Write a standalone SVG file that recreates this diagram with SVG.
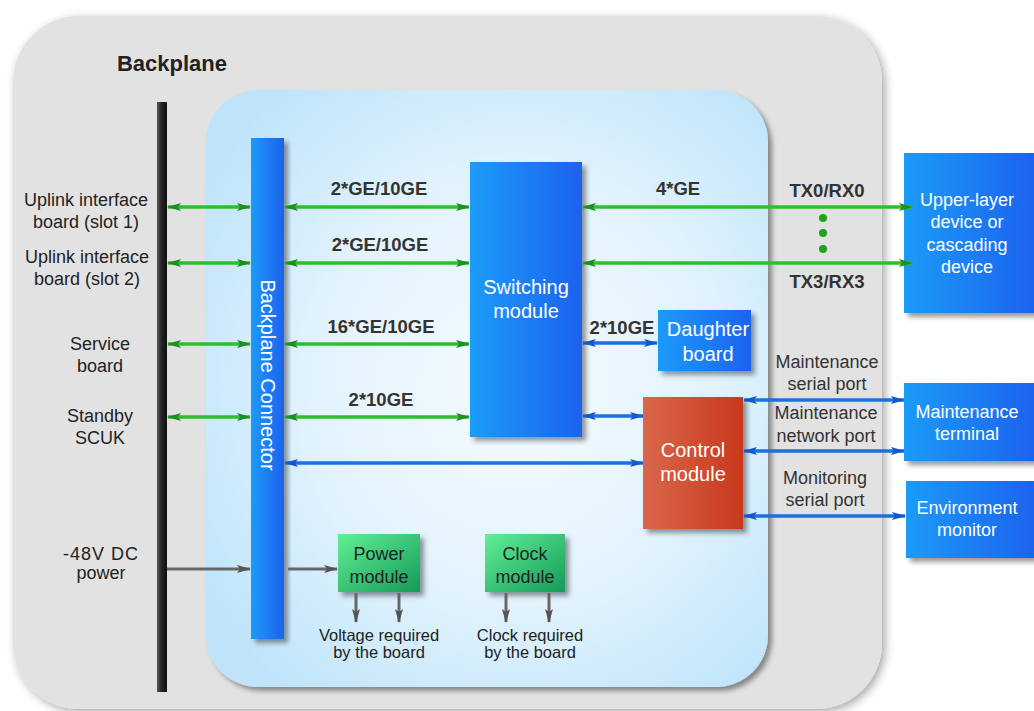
<svg xmlns="http://www.w3.org/2000/svg" width="1034" height="711" viewBox="0 0 1034 711">
<defs>
  <linearGradient id="gBlue" x1="0" y1="0" x2="1" y2="0">
    <stop offset="0" stop-color="#1d9bf8"/>
    <stop offset="1" stop-color="#1f62ee"/>
  </linearGradient>
  <linearGradient id="gRed" x1="0" y1="0" x2="1" y2="0">
    <stop offset="0" stop-color="#d9674c"/>
    <stop offset="1" stop-color="#c9381b"/>
  </linearGradient>
  <linearGradient id="gGreen" x1="0" y1="0" x2="1" y2="1">
    <stop offset="0" stop-color="#62ef96"/>
    <stop offset="1" stop-color="#139b58"/>
  </linearGradient>
  <linearGradient id="gBar" x1="0" y1="0" x2="1" y2="0">
    <stop offset="0" stop-color="#555"/>
    <stop offset="0.5" stop-color="#222"/>
    <stop offset="1" stop-color="#111"/>
  </linearGradient>
  <radialGradient id="gInner" cx="0.55" cy="0.5" r="0.65">
    <stop offset="0" stop-color="#f4faff"/>
    <stop offset="0.55" stop-color="#e2f3fd"/>
    <stop offset="1" stop-color="#bfe4fa"/>
  </radialGradient>
  <filter id="sh" x="-20%" y="-20%" width="140%" height="140%">
    <feDropShadow dx="4" dy="4" stdDeviation="2.5" flood-color="#000" flood-opacity="0.4"/>
  </filter>
  <filter id="shOuter" x="-5%" y="-5%" width="110%" height="110%">
    <feDropShadow dx="3" dy="3" stdDeviation="5" flood-color="#000" flood-opacity="0.35"/>
  </filter>
  <marker id="ag" viewBox="0 0 14 8" refX="13" refY="4" markerWidth="14" markerHeight="8" markerUnits="userSpaceOnUse" orient="auto-start-reverse">
    <path d="M0,0 L14,4 L0,8 L3,4z" fill="#1d8f22"/>
  </marker>
  <marker id="ab" viewBox="0 0 14 8" refX="13" refY="4" markerWidth="14" markerHeight="8" markerUnits="userSpaceOnUse" orient="auto-start-reverse">
    <path d="M0,0 L14,4 L0,8 L3,4z" fill="#1458c8"/>
  </marker>
  <marker id="ay" viewBox="0 0 14 8" refX="13" refY="4" markerWidth="14" markerHeight="8" markerUnits="userSpaceOnUse" orient="auto">
    <path d="M0,0 L14,4 L0,8 L3,4z" fill="#555"/>
  </marker>
  <style>
    .lbl{font-family:"Liberation Sans",Arial,sans-serif;font-size:18px;fill:#222;text-anchor:middle}
    .port{font-family:"Liberation Sans",Arial,sans-serif;font-size:18px;fill:#333;text-anchor:middle}
    .bold{font-family:"Liberation Sans",Arial,sans-serif;font-size:18.5px;font-weight:bold;fill:#333;text-anchor:middle}
    .wt{font-family:"Liberation Sans",Arial,sans-serif;font-size:20px;fill:#fff;text-anchor:middle}
    .wr{font-family:"Liberation Sans",Arial,sans-serif;font-size:18px;fill:#fff;text-anchor:middle}
    .gt{font-family:"Liberation Sans",Arial,sans-serif;font-size:18px;fill:#222;text-anchor:middle}
    .small{font-family:"Liberation Sans",Arial,sans-serif;font-size:16.5px;fill:#222;text-anchor:middle}
    .green{fill:none;stroke:#2cbf2c;stroke-width:3.5;marker-start:url(#ag);marker-end:url(#ag)}
    .blue{fill:none;stroke:#1c6fe0;stroke-width:3.5;marker-start:url(#ab);marker-end:url(#ab)}
    .gray{fill:none;stroke:#666;stroke-width:3;marker-end:url(#ay)}
    .bluebox{fill:url(#gBlue);filter:url(#sh)}
  </style>
</defs>

<g id="backplane">
  <rect x="13" y="16" width="869" height="693" rx="66" fill="#e2e2e2" filter="url(#shOuter)"/>
  <text x="172" y="71" font-family="Liberation Sans, Arial, sans-serif" font-size="22" font-weight="bold" fill="#222" text-anchor="middle">Backplane</text>
</g>

<g id="board">
  <rect x="206" y="90" width="562" height="597" rx="52" fill="url(#gInner)" filter="url(#sh)"/>
</g>

<g id="bus">
  <rect x="157" y="102" width="10" height="590" fill="url(#gBar)"/>
</g>

<g id="labels-left">
  <text class="lbl" x="86" y="206">Uplink interface</text>
  <text class="lbl" x="86" y="228">board (slot 1)</text>
  <text class="lbl" x="87" y="263">Uplink interface</text>
  <text class="lbl" x="87" y="285">board (slot 2)</text>
  <text class="lbl" x="100" y="350">Service</text>
  <text class="lbl" x="100" y="372">board</text>
  <text class="lbl" x="100" y="422">Standby</text>
  <text class="lbl" x="100" y="444">SCUK</text>
  <text class="lbl" x="101" y="560" letter-spacing="1">-48V DC</text>
  <text class="lbl" x="101" y="579">power</text>
</g>

<g id="backplane-connector">
  <rect x="251" y="138" width="33" height="501" class="bluebox"/>
  <text class="wt" transform="translate(268,375) rotate(90)" dominant-baseline="central">Backplane Connector</text>
</g>

<g id="switching-module">
  <rect x="470" y="162" width="112" height="275" class="bluebox"/>
  <text class="wt" x="526" y="294">Switching</text>
  <text class="wt" x="526" y="318">module</text>
</g>

<g id="daughter-board">
  <rect x="658" y="310" width="93" height="61" class="bluebox"/>
  <text class="wt" x="708" y="336">Daughter</text>
  <text class="wt" x="708" y="361">board</text>
</g>

<g id="control-module">
  <rect x="643" y="397" width="100" height="132" fill="url(#gRed)" filter="url(#sh)"/>
  <text class="wt" x="693" y="457">Control</text>
  <text class="wt" x="693" y="481">module</text>
</g>

<g id="power-module">
  <rect x="338" y="534" width="82" height="58" fill="url(#gGreen)" filter="url(#sh)"/>
  <text class="gt" x="379" y="560">Power</text>
  <text class="gt" x="379" y="583">module</text>
</g>

<g id="clock-module">
  <rect x="485" y="534" width="80" height="58" fill="url(#gGreen)" filter="url(#sh)"/>
  <text class="gt" x="525" y="560">Clock</text>
  <text class="gt" x="525" y="583">module</text>
</g>

<g id="upper-layer-device">
  <rect x="904" y="153" width="132" height="160" class="bluebox"/>
  <text class="wr" x="967" y="206">Upper-layer</text>
  <text class="wr" x="967" y="228">device or</text>
  <text class="wr" x="967" y="251">cascading</text>
  <text class="wr" x="967" y="273">device</text>
</g>

<g id="maintenance-terminal">
  <rect x="904" y="383" width="132" height="78" class="bluebox"/>
  <text class="wr" x="967" y="418">Maintenance</text>
  <text class="wr" x="967" y="440">terminal</text>
</g>

<g id="environment-monitor">
  <rect x="906" y="481" width="130" height="77" class="bluebox"/>
  <text class="wr" x="967" y="514">Environment</text>
  <text class="wr" x="967" y="536">monitor</text>
</g>

<g id="connectors">
  <path class="green" d="M168,207 H250"/>
  <path class="green" d="M168,263 H250"/>
  <path class="green" d="M168,344 H250"/>
  <path class="green" d="M168,417 H250"/>
  <path class="green" d="M285,207 H469"/>
  <path class="green" d="M285,263 H469"/>
  <path class="green" d="M285,344 H469"/>
  <path class="green" d="M285,417 H469"/>
  <path class="green" d="M583,207 H912"/>
  <path class="green" d="M583,263 H912"/>
  <circle cx="823" cy="218" r="4" fill="#1aa51a"/>
  <circle cx="823" cy="233" r="4" fill="#1aa51a"/>
  <circle cx="823" cy="249" r="4" fill="#1aa51a"/>

  <path class="blue" d="M583,343 H657"/>
  <path class="blue" d="M583,416 H643"/>
  <path class="blue" d="M285,463 H643"/>
  <path class="blue" d="M744,400 H904"/>
  <path class="blue" d="M744,451 H904"/>
  <path class="blue" d="M744,516 H905"/>

  <path class="gray" d="M167,569 H250"/>
  <path class="gray" d="M288,569 H337"/>
  <path class="gray" d="M356,593 V622"/>
  <path class="gray" d="M399,593 V622"/>
  <path class="gray" d="M506,593 V622"/>
  <path class="gray" d="M549,593 V622"/>

  <text class="bold" x="379" y="195">2*GE/10GE</text>
  <text class="bold" x="380" y="251">2*GE/10GE</text>
  <text class="bold" x="381" y="333">16*GE/10GE</text>
  <text class="bold" x="381" y="406">2*10GE</text>
  <text class="bold" x="678" y="195">4*GE</text>
  <text class="bold" x="827" y="197">TX0/RX0</text>
  <text class="bold" x="827" y="288">TX3/RX3</text>
  <text class="bold" x="622" y="334">2*10GE</text>

  <text class="port" x="827" y="368">Maintenance</text>
  <text class="port" x="827" y="390">serial port</text>
  <text class="port" x="826" y="419">Maintenance</text>
  <text class="port" x="826" y="442">network port</text>
  <text class="port" x="825" y="484">Monitoring</text>
  <text class="port" x="825" y="506">serial port</text>

  <text class="small" x="379" y="641">Voltage required</text>
  <text class="small" x="379" y="658">by the board</text>
  <text class="small" x="530" y="641">Clock required</text>
  <text class="small" x="530" y="658">by the board</text>
</g>
</svg>
